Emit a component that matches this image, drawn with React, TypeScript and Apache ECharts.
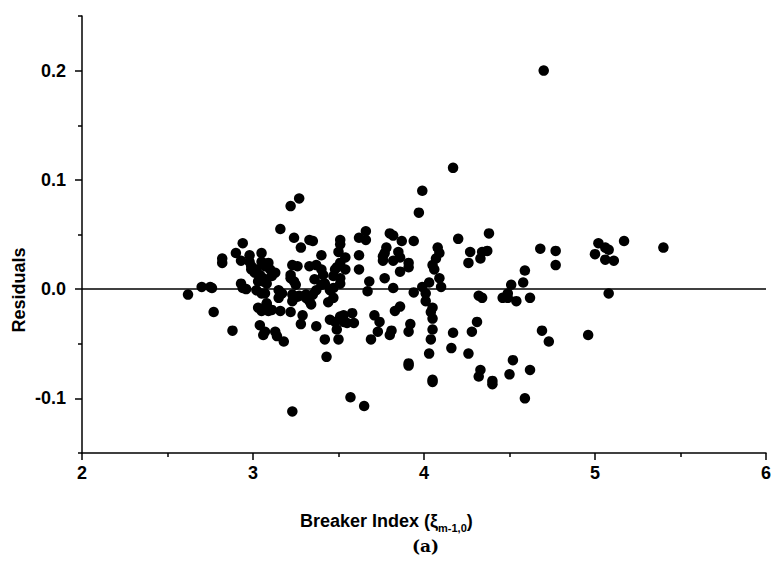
import React, { useEffect, useRef } from "react";
import * as echarts from "echarts";

// Breaker index (x) vs residuals (y)
const points: [number, number][] = [
  [2.62, -0.005], [2.70, 0.002], [2.75, 0.002], [2.76, 0.001], [2.77, -0.021], [2.82, 0.028], [2.82, 0.024], [2.88, -0.038],
  [2.90, 0.033], [2.93, 0.026], [2.94, 0.042], [2.93, 0.005], [2.94, 0.001], [2.96, 0.000], [2.98, 0.031], [2.98, 0.025],
  [2.99, 0.021], [2.99, 0.018], [3.01, 0.015], [3.02, 0.018], [3.02, -0.001], [3.03, 0.007], [3.04, 0.013], [3.05, 0.033],
  [3.05, 0.025], [3.05, -0.004], [3.06, 0.010], [3.07, 0.021], [3.08, 0.005], [3.09, 0.024], [3.10, 0.018], [3.11, 0.012],
  [3.13, 0.015], [3.15, -0.001], [3.17, -0.004], [3.16, 0.055], [3.07, -0.004], [3.06, 0.007],
  [3.03, -0.017], [3.05, -0.020], [3.08, -0.014], [3.09, -0.020], [3.11, -0.019], [3.15, -0.008], [3.16, -0.020], [3.04, -0.033],
  [3.07, -0.039], [3.06, -0.042], [3.13, -0.039], [3.14, -0.043], [3.18, -0.048], [3.08, -0.013],
  [3.22, 0.076], [3.27, 0.083], [3.24, 0.047], [3.28, 0.038], [3.33, 0.045], [3.35, 0.044], [3.23, 0.022], [3.26, 0.021],
  [3.22, 0.013], [3.22, 0.010], [3.24, 0.007], [3.25, 0.004], [3.33, 0.021], [3.37, 0.022], [3.40, 0.018], [3.41, 0.013],
  [3.36, 0.009], [3.42, 0.005], [3.40, 0.031], [3.45, -0.001], [3.47, 0.012], [3.48, 0.018], [3.51, 0.045], [3.51, 0.041],
  [3.50, 0.034], [3.54, 0.029], [3.51, 0.024], [3.49, 0.020], [3.54, 0.018], [3.51, 0.010], [3.51, 0.005], [3.47, 0.001],
  [3.23, -0.005], [3.26, -0.007], [3.31, -0.005], [3.35, -0.005], [3.37, -0.001], [3.40, 0.004], [3.22, -0.021], [3.23, -0.011],
  [3.27, -0.006], [3.31, -0.008], [3.33, -0.011], [3.34, -0.014], [3.29, -0.024], [3.28, -0.032], [3.37, -0.034], [3.42, -0.046],
  [3.43, -0.062], [3.44, -0.012], [3.47, -0.008], [3.45, -0.028], [3.49, -0.037], [3.50, -0.046], [3.51, -0.025], [3.53, -0.024],
  [3.55, -0.031], [3.58, -0.022], [3.59, -0.031], [3.48, -0.030], [3.53, -0.030], [3.23, -0.112],
  [3.62, 0.047], [3.66, 0.053], [3.66, 0.045], [3.62, 0.031], [3.62, 0.018], [3.68, 0.007], [3.67, -0.002], [3.80, 0.051],
  [3.82, 0.049], [3.87, 0.044], [3.94, 0.044], [3.78, 0.038], [3.77, 0.033], [3.76, 0.030], [3.76, 0.026], [3.82, 0.026],
  [3.85, 0.034], [3.86, 0.029], [3.91, 0.024], [3.91, 0.020], [3.86, 0.016], [3.77, 0.010], [3.82, 0.001], [3.97, 0.070],
  [3.99, 0.090], [3.94, -0.003], [3.99, 0.002], [4.01, -0.004], [4.03, 0.006], [4.05, 0.022], [4.06, 0.018], [4.07, 0.028],
  [4.08, 0.038], [4.09, 0.033], [4.09, 0.010], [4.10, 0.002], [4.20, 0.046], [4.17, 0.111],
  [3.71, -0.024], [3.74, -0.030], [3.73, -0.039], [3.69, -0.046], [3.81, -0.038], [3.80, -0.042], [3.83, -0.020], [3.86, -0.016],
  [3.92, -0.032], [3.91, -0.039], [3.91, -0.068], [3.91, -0.070], [3.57, -0.099], [3.65, -0.107], [4.01, -0.011], [4.05, -0.017],
  [4.05, -0.027], [4.04, -0.021], [4.05, -0.037], [4.04, -0.046], [4.03, -0.059], [4.05, -0.083], [4.05, -0.085], [4.17, -0.040],
  [4.16, -0.054],
  [4.27, 0.034], [4.26, 0.024], [4.33, 0.028], [4.34, 0.034], [4.37, 0.035], [4.38, 0.051], [4.32, -0.006], [4.34, -0.008],
  [4.31, -0.030], [4.28, -0.039], [4.26, -0.059], [4.33, -0.074], [4.32, -0.080], [4.40, -0.084], [4.40, -0.087], [4.46, -0.008],
  [4.49, -0.008], [4.49, -0.004], [4.51, 0.004], [4.54, -0.011], [4.58, 0.006], [4.59, 0.017], [4.62, -0.008], [4.52, -0.065],
  [4.50, -0.078], [4.62, -0.074], [4.59, -0.100], [4.68, 0.037], [4.69, -0.038], [4.73, -0.048], [4.77, 0.035], [4.77, 0.022],
  [4.70, 0.200],
  [4.96, -0.042], [5.02, 0.042], [5.00, 0.032], [5.06, 0.038], [5.08, 0.036], [5.06, 0.027], [5.11, 0.026], [5.17, 0.044],
  [5.40, 0.038], [5.08, -0.004],
];

const xRange = [2, 6];
const yRange = [-0.15, 0.25];
const yMajorTicks = [-0.1, 0, 0.1, 0.2];
const yMinorTicks = [-0.15, -0.05, 0.05, 0.15, 0.25];
const yLabels = ["-0.1", "0.0", "0.1", "0.2"];

const FONT = "'Liberation Sans', Arial, sans-serif";

export default function App() {
  const ref = useRef<HTMLDivElement>(null);
  useEffect(() => {
    if (!ref.current) return;
    const chart = echarts.init(ref.current, null, { renderer: "svg" });
    const axisLine = { show: true, onZero: false, lineStyle: { color: "#000", width: 1.5 } };
    chart.setOption({
      animation: false,
      backgroundColor: "#fff",
      grid: { left: 82, right: 1, top: 16, bottom: 124, containLabel: false },
      title: [
        {
          text: "{a|Breaker Index (ξ}{s|m-1,0}{a|)}",
          left: 300,
          top: 509,
          padding: 0,
          textStyle: {
            rich: {
              a: { fontFamily: FONT, fontWeight: "bold", fontSize: 18, color: "#000", lineHeight: 24, verticalAlign: "middle" },
              s: { fontFamily: FONT, fontWeight: "bold", fontSize: 11, color: "#000", lineHeight: 24, verticalAlign: "bottom" },
            },
          },
        },
        {
          text: "(a)",
          left: 412,
          top: 537,
          padding: 0,
          textStyle: { fontFamily: "'DejaVu Serif', 'Liberation Serif', serif", fontWeight: "bold", fontSize: 17, color: "#000" },
        },
      ],
      graphic: [
        {
          type: "text",
          x: 19,
          y: 290,
          rotation: Math.PI / 2,
          style: {
            text: "Residuals",
            fill: "#000",
            font: `bold 18px ${FONT}`,
            textAlign: "center",
            textVerticalAlign: "middle",
          },
        },
      ],
      xAxis: {
        type: "value",
        min: xRange[0],
        max: xRange[1],
        interval: 1,
        axisLine,
        axisTick: { show: true, inside: false, length: 7, lineStyle: { color: "#000", width: 1.5 } },
        minorTick: { show: true, splitNumber: 2, length: 4, lineStyle: { color: "#000", width: 1.5 } },
        splitLine: { show: false },
        axisLabel: { color: "#000", fontFamily: FONT, fontWeight: "bold", fontSize: 18, margin: 11 },
      },
      yAxis: [
        {
          type: "value",
          min: yRange[0],
          max: yRange[1],
          axisLine,
          axisTick: { show: true, inside: false, length: 7, customValues: yMajorTicks, lineStyle: { color: "#000", width: 1.5 } },
          splitLine: { show: false },
          axisLabel: {
            color: "#000",
            fontFamily: FONT,
            fontWeight: "bold",
            fontSize: 18,
            margin: 16,
            customValues: yMajorTicks,
            formatter: (v: number) => {
              const i = yMajorTicks.findIndex((t) => Math.abs(t - v) < 1e-9);
              return i >= 0 ? yLabels[i] : "";
            },
          },
        },
        {
          type: "value",
          min: yRange[0],
          max: yRange[1],
          position: "left",
          axisLine: { show: false, onZero: false },
          axisTick: { show: true, inside: false, length: 4, customValues: yMinorTicks, lineStyle: { color: "#000", width: 1.5 } },
          axisLabel: { show: false },
          splitLine: { show: false },
        },
      ],
      series: [
        {
          type: "scatter",
          data: points,
          symbol: "circle",
          symbolSize: 10.5,
          itemStyle: { color: "#000", opacity: 1 },
          markLine: {
            silent: true,
            symbol: ["none", "none"],
            label: { show: false },
            lineStyle: { color: "#000", width: 1.5, type: "solid" },
            data: [{ yAxis: 0 }],
          },
        },
      ],
    });
    return () => chart.dispose();
  }, []);
  return <div ref={ref} style={{ position: "fixed", left: 0, top: 0, width: 774, height: 577 }} />;
}
